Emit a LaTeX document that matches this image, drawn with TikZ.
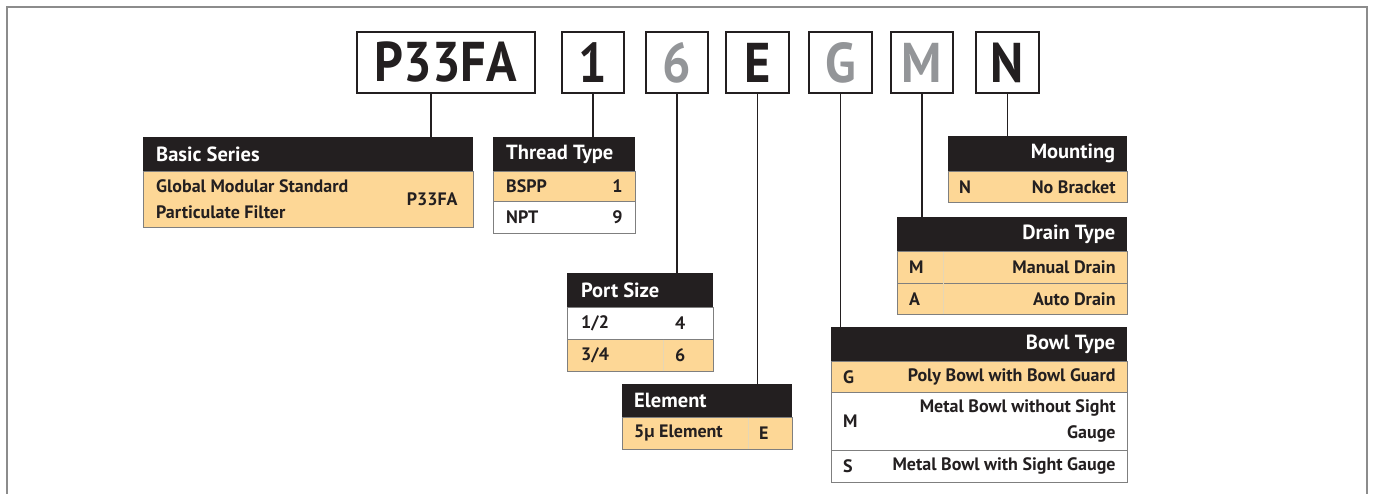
\documentclass[tikz,border=0pt]{standalone}
\usepackage{fontspec}
\setmainfont{PT Sans}
\newfontfamily\dinfont{PT Sans}[FakeStretch=0.9]
\definecolor{ink}{HTML}{231F20}
\definecolor{peach}{HTML}{FDD796}
\definecolor{rule}{HTML}{7F7F7F}
\definecolor{faint}{HTML}{E6D6B4}
\definecolor{greytext}{HTML}{939598}
\definecolor{frame}{HTML}{8C8C8C}
\tikzset{
  codebox/.style={draw=ink, line width=1.6pt, fill=white, inner sep=0pt, minimum height=61pt, font=\dinfont\bfseries\fontsize{56}{56}\selectfont, text=ink},
  hdrbox/.style={fill=ink, draw=none, inner sep=0pt, anchor=north west, minimum height=34pt},
  orow/.style={fill=peach, draw=rule, line width=0.8pt, inner sep=0pt, anchor=north west},
  wrow/.style={fill=white, draw=rule, line width=0.8pt, inner sep=0pt, anchor=north west},
  htxt/.style={text=white, inner sep=0pt, font=\bfseries\fontsize{20.5}{22}\selectfont},
  btxt/.style={text=ink, inner sep=0pt, font=\bfseries\fontsize{18}{26}\selectfont},
  conn/.style={draw=ink, line width=1.6pt},
  divline/.style={draw=faint, line width=0.5pt}
}
\begin{document}
\begin{tikzpicture}[x=1pt,y=-1pt]
\useasboundingbox (0,0) rectangle (1373,493);
% outer frame (bottom edge beyond the picture)
\draw[frame, line width=1.5pt] (7,500) -- (7,7) -- (1367,7) -- (1367,500);

% code boxes
\node[codebox, minimum width=178pt] (bP) at (446,62.5) {P33FA};
\node[codebox, minimum width=62pt] (b1) at (593,62.5) {1};
\node[codebox, minimum width=62pt, text=greytext] (b6) at (677,62.5) {6};
\node[codebox, minimum width=63pt] (bE) at (757.5,62.5) {E};
\node[codebox, minimum width=63pt, text=greytext] (bG) at (840.5,62.5) {G};
\node[codebox, minimum width=62pt, text=greytext] (bM) at (922,62.5) {M};
\node[codebox, minimum width=63pt] (bN) at (1007.5,62.5) {N};

% Basic Series
\node[hdrbox, minimum width=330pt] (bsh) at (143,137) {};
\node[htxt, anchor=west] at ([xshift=13pt]bsh.west) {Basic Series};
\node[orow, minimum width=330pt, minimum height=56pt] (bs1) at (143,171) {};
\node[btxt, anchor=west, align=left] at ([xshift=13pt]bs1.west) {Global Modular Standard\\Particulate Filter};
\node[btxt, anchor=east] at ([xshift=-16pt]bs1.east) {P33FA};

% Thread Type
\node[hdrbox, minimum width=142pt] (tth) at (493,137) {};
\node[htxt, anchor=west] at ([xshift=13pt]tth.west) {Thread Type};
\node[orow, minimum width=142pt, minimum height=30pt] (tt1) at (493,171) {};
\node[wrow, minimum width=142pt, minimum height=32pt] (tt2) at (493,201) {};
\node[btxt, anchor=west] at ([xshift=13pt]tt1.west) {BSPP};
\node[btxt, anchor=east] at ([xshift=-13pt]tt1.east) {1};
\node[btxt, anchor=west] at ([xshift=13pt]tt2.west) {NPT};
\node[btxt, anchor=east] at ([xshift=-13pt]tt2.east) {9};

% Port Size
\node[hdrbox, minimum width=146pt] (psh) at (567,273) {};
\node[htxt, anchor=west] at ([xshift=14pt]psh.west) {Port Size};
\node[wrow, minimum width=146pt, minimum height=32pt] (ps1) at (567,307) {};
\node[orow, minimum width=146pt, minimum height=32pt] (ps2) at (567,339) {};
\draw[divline] (663,339.5) -- (663,370.5);
\node[btxt, anchor=west] at ([xshift=14pt]ps1.west) {1/2};
\node[btxt, anchor=west] at ([xshift=108pt]ps1.west) {4};
\node[btxt, anchor=west] at ([xshift=14pt]ps2.west) {3/4};
\node[btxt, anchor=west] at ([xshift=108pt]ps2.west) {6};

% Element
\node[hdrbox, minimum width=170pt, minimum height=33pt] (elh) at (622,384) {};
\node[htxt, anchor=west] at ([xshift=12pt]elh.west) {Element};
\node[orow, minimum width=170pt, minimum height=32pt] (el1) at (622,417) {};
\draw[divline] (748,417.5) -- (748,448.5);
\node[btxt, anchor=west] at ([xshift=12pt]el1.west) {5µ Element};
\node[btxt, anchor=west] at ([xshift=137pt]el1.west) {E};

% Mounting
\node[hdrbox, minimum width=179pt, minimum height=35pt] (mth) at (948,136) {};
\node[htxt, anchor=east] at ([xshift=-12pt]mth.east) {Mounting};
\node[orow, minimum width=179pt, minimum height=31pt] (mt1) at (948,171) {};
\node[btxt, anchor=west] at ([xshift=11pt]mt1.west) {N};
\node[btxt, anchor=east] at ([xshift=-12pt]mt1.east) {No Bracket};

% Drain Type
\node[hdrbox, minimum width=230pt] (drh) at (897,217) {};
\node[htxt, anchor=east] at ([xshift=-12pt]drh.east) {Drain Type};
\node[orow, minimum width=230pt, minimum height=32pt] (dr1) at (897,251) {};
\node[orow, minimum width=230pt, minimum height=31pt] (dr2) at (897,283) {};
\draw[divline] (943,251.5) -- (943,313.5);
\node[btxt, anchor=west] at ([xshift=12pt]dr1.west) {M};
\node[btxt, anchor=east] at ([xshift=-12pt]dr1.east) {Manual Drain};
\node[btxt, anchor=west] at ([xshift=12pt]dr2.west) {A};
\node[btxt, anchor=east] at ([xshift=-12pt]dr2.east) {Auto Drain};

% Bowl Type
\node[hdrbox, minimum width=296pt] (bwh) at (831,327) {};
\node[htxt, anchor=east] at ([xshift=-12pt]bwh.east) {Bowl Type};
\node[orow, minimum width=296pt, minimum height=31pt] (bw1) at (831,361) {};
\node[wrow, minimum width=296pt, minimum height=58pt] (bw2) at (831,392) {};
\node[wrow, minimum width=296pt, minimum height=32pt] (bw3) at (831,450) {};
\node[btxt, anchor=west] at ([xshift=12pt]bw1.west) {G};
\node[btxt, anchor=east] at ([xshift=-12pt]bw1.east) {Poly Bowl with Bowl Guard};
\node[btxt, anchor=west] at ([xshift=12pt]bw2.west) {M};
\node[btxt, anchor=east, align=right] at ([xshift=-12pt]bw2.east) {Metal Bowl without Sight\\Gauge};
\node[btxt, anchor=west] at ([xshift=12pt]bw3.west) {S};
\node[btxt, anchor=east] at ([xshift=-12pt]bw3.east) {Metal Bowl with Sight Gauge};

% connectors
\coordinate (pc) at (431,93);
\draw[conn] (pc) -- (pc |- bsh.north);
\draw[conn] (b1.south) -- (b1.south |- tth.north);
\draw[conn] (b6.south) -- (b6.south |- psh.north);
\draw[conn] (bE.south) -- (bE.south |- elh.north);
\draw[conn] (bG.south) -- (bG.south |- bwh.north);
\draw[conn] (bM.south) -- (bM.south |- drh.north);
\draw[conn] (bN.south) -- (bN.south |- mth.north);
\end{tikzpicture}
\end{document}
